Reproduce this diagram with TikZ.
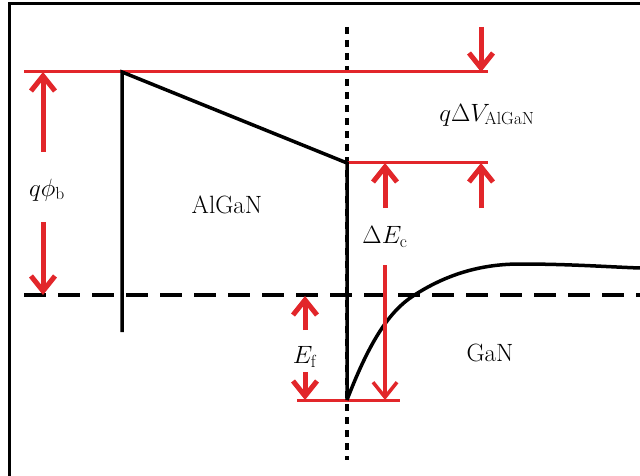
\RequirePackage{fix-cm}
\documentclass[tikz,border=0pt]{standalone}
\usetikzlibrary{arrows.meta}
\definecolor{bred}{RGB}{226,38,42}
\tikzset{
  lbl/.style={inner sep=0pt,font=\fontsize{25}{30}\selectfont},
  redline/.style={draw=bred,line width=3pt},
  redarr/.style={draw=bred,line width=5pt,-{Straight Barb[length=15pt,width=24pt]}},
  thinarr/.style={draw=bred,line width=3.5pt,-{Straight Barb[length=15pt,width=24pt]}},
  blk/.style={draw=black,line width=3.5pt},
}
\begin{document}
\begin{tikzpicture}[x=1pt,y=-1pt]
\useasboundingbox (0,0) rectangle (640,476);
\fill[white] (0,0) rectangle (640,476);
% frame (top and left)
\coordinate (fbl) at (9,476);
\coordinate (ftl) at (9,4);
\coordinate (ftr) at (640,4);
\draw[line width=3pt] (fbl) -- (ftl) -- (ftr);
% key coordinates
\coordinate (topL) at (24,72);
\coordinate (topR) at (488,72);
\coordinate (wl) at (122,72);
\coordinate (wlb) at (122,332);
\coordinate (ifT) at (347,163);
\coordinate (ifB) at (347,400);
\coordinate (dotT) at (347,27);
\coordinate (dotB) at (347,460);
\coordinate (midR) at (488,163);
\coordinate (fL) at (24,295);
\coordinate (fR) at (640,295);
\coordinate (botL) at (297,400);
\coordinate (botR) at (400,400);
% dashed Fermi level
\draw[line width=4pt,dash pattern=on 22pt off 12pt] (fL) -- (fR);
% dotted interface
\draw[line width=4pt,dash pattern=on 7pt off 6pt] (dotT) -- (dotB);
% red levels
\draw[redline] (topL) -- (topR);
\draw[redline] (ifT) -- (midR);
\draw[redline] (botL) -- (botR);
% black band edges
\draw[blk,line join=miter] (wlb) -- (wl) -- (ifT) -- (ifB);
\draw[blk] (ifB) .. controls (370,340) and (390,311) .. (413,296)
  .. controls (445,275) and (480,264) .. (520,264)
  .. controls (570,264) and (610,267) .. (640,268);
% arrows
\coordinate (a1s) at (43,152); \coordinate (a1e) at (43,72);
\coordinate (a2s) at (43,222); \coordinate (a2e) at (43,295);
\coordinate (a3s) at (481,27); \coordinate (a3e) at (481,72);
\coordinate (a4s) at (385,208); \coordinate (a4e) at (385,163);
\coordinate (a5s) at (481,208); \coordinate (a5e) at (481,163);
\coordinate (a6s) at (385,265); \coordinate (a6e) at (385,400);
\coordinate (a7s) at (305,330); \coordinate (a7e) at (305,296);
\coordinate (a8s) at (305,372); \coordinate (a8e) at (305,400);
\draw[redarr] (a1s) -- (a1e);
\draw[redarr] (a2s) -- (a2e);
\draw[redarr] (a3s) -- (a3e);
\draw[redarr] (a4s) -- (a4e);
\draw[redarr] (a5s) -- (a5e);
\draw[thinarr] (a6s) -- (a6e);
\draw[redarr] (a7s) -- (a7e);
\draw[redarr] (a8s) -- (a8e);
% labels
\node[lbl] (phib) at (47,190) {$q\phi_{\mathrm{b}}$};
\node[lbl] (algan) at (227,205) {AlGaN};
\node[lbl] (dv) at (487,115) {$q\Delta V_{\mathrm{AlGaN}}$};
\node[lbl] (dec) at (385,237) {$\Delta E_{\mathrm{c}}$};
\node[lbl] (ef) at (305,357) {$E_{\mathrm{f}}$};
\node[lbl] (gan) at (490,353) {GaN};
\end{tikzpicture}
\end{document}
